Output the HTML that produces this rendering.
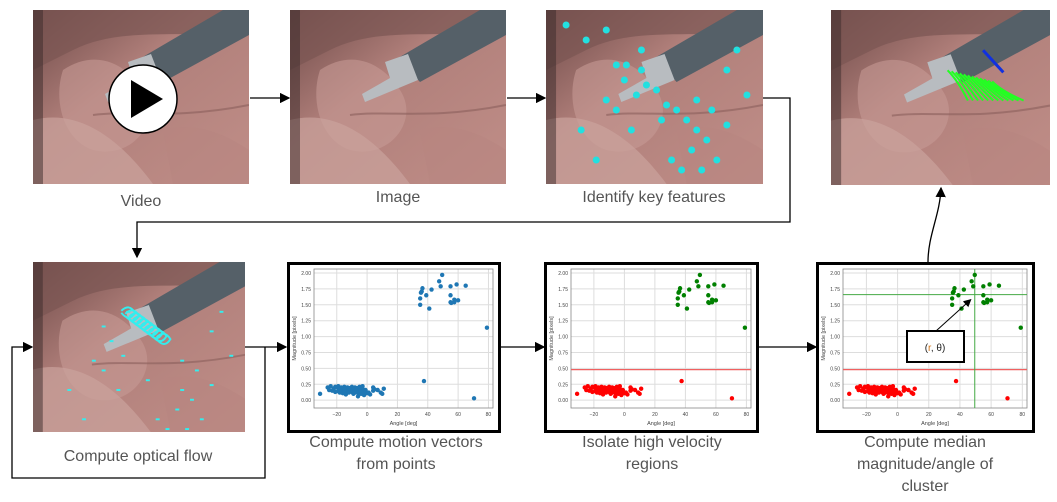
<!DOCTYPE html>
<html><head><meta charset="utf-8"><style>
body{margin:0;width:1057px;height:502px;background:#fff;position:relative;overflow:hidden;font-family:"Liberation Sans",sans-serif}
.ab{position:absolute}
.cap{position:absolute;color:#555;font-size:16px;text-align:center;line-height:22px}
.photo{position:absolute;overflow:hidden}
.plot{position:absolute;border:3px solid #000;box-sizing:border-box;background:#fff}
</style></head><body>
<svg class="ab" width="1057" height="502" style="left:0;top:0">
<defs><marker id="ah" markerWidth="8" markerHeight="8" refX="7" refY="4" orient="auto"><path d="M0,0 L8,4 L0,8z" fill="#000"/></marker></defs>
<g stroke="#000" stroke-width="1.3" fill="none">
<line x1="250" y1="98" x2="289" y2="98" marker-end="url(#ah)"/>
<line x1="507" y1="98" x2="545" y2="98" marker-end="url(#ah)"/>
<polyline points="763,98 790,98 790,222 137,222 137,257" marker-end="url(#ah)"/>
<line x1="245" y1="347" x2="286" y2="347" marker-end="url(#ah)"/>
<polyline points="265,347 265,478 12,478 12,347 32,347" marker-end="url(#ah)"/>
<line x1="500" y1="347" x2="544" y2="347" marker-end="url(#ah)"/>
<line x1="758" y1="347" x2="816" y2="347" marker-end="url(#ah)"/>
<path d="M928,262 C928,235 940,215 941,188" marker-end="url(#ah)"/>
</g></svg>

<div id="p1" class="photo" style="left:33px;top:10px;width:216px;height:174px"></div>
<div id="p2" class="photo" style="left:290px;top:10px;width:216px;height:174px"></div>
<div id="p3" class="photo" style="left:546px;top:10px;width:217px;height:174px"></div>
<div id="p4" class="photo" style="left:831px;top:10px;width:219px;height:175px"></div>
<div id="p5" class="photo" style="left:33px;top:262px;width:212px;height:170px"></div>

<svg class="ab" style="left:108px;top:64px" width="70" height="70"><circle cx="35" cy="35" r="34" fill="#fff" stroke="#000" stroke-width="1.5"/><path d="M23,16 L55,35 L23,54z" fill="#000"/></svg>

<div class="plot" style="left:287px;top:262px;width:214px;height:171px"><svg id="s1" width="208" height="165"></svg></div>
<div class="plot" style="left:544px;top:262px;width:215px;height:171px"><svg id="s2" width="209" height="165"></svg></div>
<div class="plot" style="left:816px;top:262px;width:219px;height:171px"><svg id="s3" width="213" height="165"></svg></div>

<div class="cap" style="left:41px;top:191px;width:200px">Video</div>
<div class="cap" style="left:298px;top:187px;width:200px">Image</div>
<div class="cap" style="left:534px;top:187px;width:240px">Identify key features</div>
<div class="cap" style="left:28px;top:446px;width:220px">Compute optical flow</div>
<div class="cap" style="left:276px;top:432px;width:240px">Compute motion vectors<br>from points</div>
<div class="cap" style="left:532px;top:432px;width:240px">Isolate high velocity<br>regions</div>
<div class="cap" style="left:805px;top:432px;width:240px">Compute median<br>magnitude/angle of<br>cluster</div>

<script>
// scatter data (angle deg, magnitude px)
const hiAngles=[35,35,35.5,36,36.5,39,41,42.5,47.5,48.5,49.5,55,55,55,55.5,57.5,57.5,59,60,65,79];
const hiMags=[1.50,1.60,1.69,1.71,1.76,1.65,1.44,1.74,1.87,1.79,1.97,1.79,1.65,1.54,1.53,1.58,1.54,1.82,1.57,1.80,1.14];
const loAngles=[-31,-26,-24,-23,-22,-21,-20,-19,-19,-18,-18,-17,-17,-16,-16,-15,-15,-14,-14,-13,-13,-12,-12,-11,-10,-10,-9,-9,-8,-8,-7,-7,-6,-6,-5,-5,-4,-4,-3,-3,-2,-2,-1,0,1,2,4,4,5,7,9,10,11,-25,-21,-18,-15,-12,-8,-4,37.5,70.5];
const loMags=[0.10,0.20,0.22,0.15,0.18,0.21,0.20,0.14,0.22,0.17,0.12,0.20,0.15,0.19,0.11,0.21,0.14,0.18,0.09,0.20,0.15,0.12,0.19,0.17,0.21,0.13,0.18,0.10,0.16,0.20,0.14,0.19,0.06,0.12,0.17,0.21,0.10,0.15,0.22,0.18,0.13,0.08,0.16,0.11,0.12,0.09,0.20,0.15,0.17,0.16,0.12,0.10,0.18,0.16,0.13,0.17,0.16,0.19,0.12,0.20,0.30,0.03];
const xTicks=[-20,0,20,40,60,80];
const yTicks=[0,0.25,0.5,0.75,1.0,1.25,1.5,1.75,2.0];
const medAngle=49.5, medMag=1.66, thresh=0.48;
const NS="http://www.w3.org/2000/svg";
function mk(p,t,a){const e=document.createElementNS(NS,t);for(const k in a)e.setAttribute(k,a[k]);p.appendChild(e);return e;}
function plot(id,mode){
 const s=document.getElementById(id);
 const L=24,R=s.getAttribute('width')-5,T=4,B=143;
 const x=v=>L+(v+35)/(83+35)*(R-L);
 const y=v=>T+137-(v+0.06)/(2.06)*(137-6)-2;
 for(const t of xTicks){const g=mk(s,'line',{x1:x(t),x2:x(t),y1:T,y2:B,stroke:'#ddd','stroke-width':1});
  const tx=mk(s,'text',{x:x(t),y:B+8,'font-size':5,'text-anchor':'middle',fill:'#444'});tx.textContent=t===-20?'−20':t;}
 for(const t of yTicks){mk(s,'line',{x1:L,x2:R,y1:y(t),y2:y(t),stroke:'#ddd','stroke-width':1});
  const tx=mk(s,'text',{x:L-3,y:y(t)+2,'font-size':5,'text-anchor':'end',fill:'#444'});tx.textContent=t.toFixed(2);}
 mk(s,'rect',{x:L,y:T,width:R-L,height:B-T,fill:'none',stroke:'#888','stroke-width':0.8});
 const xl=mk(s,'text',{x:(L+R)/2,y:B+17,'font-size':5.5,'text-anchor':'middle',fill:'#444'});xl.textContent='Angle [deg]';
 const yl=mk(s,'text',{x:0,y:0,'font-size':5.5,'text-anchor':'middle',fill:'#444',transform:`translate(6,${(T+B)/2}) rotate(-90)`});yl.textContent='Magnitude [pixels]';
 const hc=mode===0?'#1f77b4':'#008000', lc=mode===0?'#1f77b4':'#ff0000';
 if(mode>0){const l=mk(s,'line',{x1:L,x2:R,y1:y(thresh),y2:y(thresh),stroke:'#f06060','stroke-width':1.2});}
 if(mode===2){mk(s,'line',{x1:L,x2:R,y1:y(medMag),y2:y(medMag),stroke:'#4a4','stroke-width':1});mk(s,'line',{x1:x(medAngle),x2:x(medAngle),y1:T,y2:B,stroke:'#4a4','stroke-width':1});}
 for(let i=0;i<loAngles.length;i++){const c=mk(s,'circle',{cx:x(loAngles[i]),cy:y(loMags[i]),r:2.2,fill:lc});}
 for(let i=0;i<hiAngles.length;i++){const c=mk(s,'circle',{cx:x(hiAngles[i]),cy:y(hiMags[i]),r:2.2,fill:hc});}
 if(mode===2){
  mk(s,'defs',{}).innerHTML='<marker id="am" markerWidth="8" markerHeight="8" refX="7" refY="4" orient="auto"><path d="M0,0 L8,4 L0,8z" fill="#000"/></marker>';
  mk(s,'line',{x1:117,y1:66,x2:x(medAngle)-4,y2:y(medMag)+5,stroke:'#000','stroke-width':1,'marker-end':'url(#am)'});
  const r=mk(s,'rect',{x:88,y:66,width:57,height:31,fill:'#fff',stroke:'#000','stroke-width':2});
  const t=mk(s,'text',{x:116,y:86,'font-size':10,'text-anchor':'middle',fill:'#222'});t.innerHTML='(<tspan fill="#d07010">r</tspan>, θ)';
 }
}
plot('s1',0);plot('s2',1);plot('s3',2);

function photo(id,extra){
 const d=document.getElementById(id);const w=d.offsetWidth,h=d.offsetHeight;
 d.innerHTML=`<svg width="${w}" height="${h}" viewBox="0 0 216 174" preserveAspectRatio="none">
 <defs><linearGradient id="g${id}" x1="0" y1="0" x2="1" y2="1"><stop offset="0" stop-color="#6e4a48"/><stop offset="0.4" stop-color="#b07f7a"/><stop offset="1" stop-color="#c08e88"/></linearGradient></defs>
 <rect width="216" height="174" fill="url(#g${id})"/>
 <path d="M0,0 L216,0 L216,20 C150,30 90,15 40,40 L0,60z" fill="#7a5552" opacity="0.7"/>
 <path d="M30,60 C60,40 90,50 110,80 C130,110 100,150 60,140 C30,130 20,90 30,60z" fill="#c69a94" opacity="0.6"/>
 <path d="M0,110 C40,100 80,120 120,174 L0,174z" fill="#caa29c" opacity="0.7"/>
 <path d="M130,120 C170,110 200,130 216,140 L216,174 L140,174z" fill="#b88680" opacity="0.6"/>
 <path d="M60,105 C100,100 140,110 216,95" stroke="#8a5f5c" stroke-width="2" fill="none" opacity="0.6"/>
 <path d="M0,0 L10,0 L10,174 L0,174z" fill="#3a2a2a" opacity="0.5"/>
 <path d="M108,48 L190,0 L216,0 L216,25 L130,72z" fill="#556068"/>
 <path d="M95,52 L118,44 L128,70 L75,92 L72,84 L100,68z" fill="#b8bcc0"/>
 ${extra}</svg>`;
}
let cy='';const cp=[[20,15],[40,30],[60,20],[80,55],[95,60],[100,75],[110,80],[120,95],[130,100],[140,110],[150,120],[160,130],[145,140],[170,150],[155,160],[60,90],[70,100],[85,120],[190,40],[180,60],[200,85],[35,120],[50,150],[180,115],[125,150],[135,160],[115,110],[90,85],[70,55],[150,90],[165,100],[95,40],[78,70]];
for(const [a,b] of cp) cy+=`<circle cx="${a}" cy="${b}" r="3.5" fill="#22e0e0"/>`;
let gr='';for(let i=0;i<12;i++)gr+=`<path d="M${115+i*4},${60+i} q10,10 ${20+i},${30-i}" stroke="#2f2" stroke-width="2" fill="none"/>`;
gr+='<line x1="170" y1="62" x2="150" y2="40" stroke="#1030e0" stroke-width="3"/>';
let fl='';for(let i=0;i<10;i++)fl+=`<path d="M${90+i*4},${50+i*3} q8,-8 14,2 q-6,10 -14,0" stroke="#3ee" stroke-width="2" fill="none"/>`;
for(const [a,b] of cp.slice(10)) fl+=`<rect x="${a}" y="${b+10}" width="4" height="2" fill="#3ee"/>`;
photo('p1','');photo('p2','');photo('p3',cy);photo('p4',gr);photo('p5',fl);
</script>
</body></html>
